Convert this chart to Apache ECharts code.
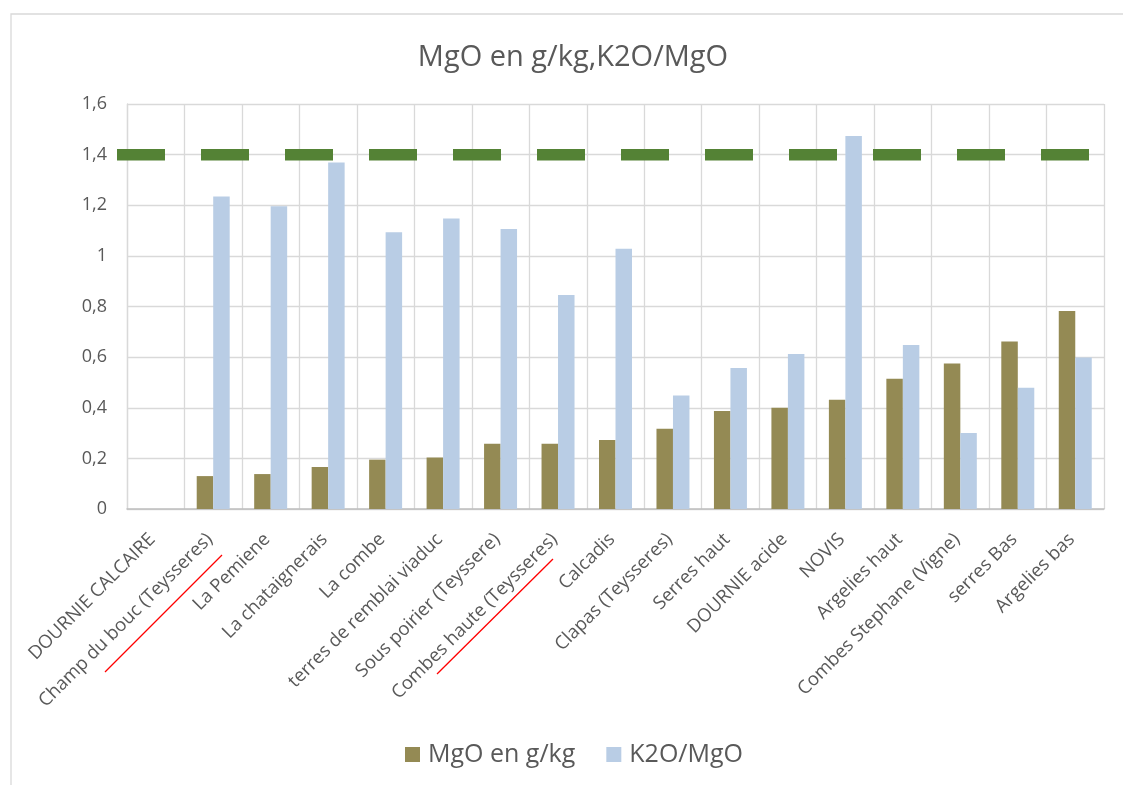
<!DOCTYPE html>
<html>
<head>
<meta charset="utf-8">
<script src="https://cdn.jsdelivr.net/npm/echarts@6/dist/echarts.min.js"></script>
<style>html,body{margin:0;padding:0;background:#fff}#c{width:1123px;height:785px}</style>
</head>
<body>
<div id="c"></div>
<script>
const categories = ["DOURNIE CALCAIRE","Champ du bouc (Teysseres)","La Pemiene","La chataignerais","La combe","terres de remblai viaduc","Sous poirier (Teyssere)","Combes haute (Teysseres)","Calcadis","Clapas (Teysseres)","Serres haut","DOURNIE acide","NOVIS","Argelies haut","Combes Stephane (Vigne)","serres Bas","Argelies bas"];
const mgo = [null,0.13,0.138,0.166,0.195,0.203,0.258,0.258,0.273,0.317,0.387,0.400,0.432,0.515,0.575,0.662,0.782];
const k2oMgo = [null,1.235,1.196,1.369,1.093,1.148,1.106,0.845,1.028,0.448,0.557,0.612,1.474,0.648,0.300,0.479,0.599];
const threshold = [1.4,1.4,1.4,1.4,1.4,1.4,1.4,1.4,1.4,1.4,1.4,1.4,1.4,1.4,1.4,1.4,1.4];
const yTicks = ["0","0,2","0,4","0,6","0,8","1","1,2","1,4","1,6"];

const FONT = "Open Sans";
const TXT = "#595959";
const chart = echarts.init(document.getElementById('c'));
chart.setOption({
  animation: false,
  backgroundColor: '#fff',
  textStyle: {fontFamily: FONT},
  title: {
    text: 'MgO en g/kg,K2O/MgO',
    left: 568, top: 38, textAlign: 'center',
    textStyle: {fontFamily: FONT, fontSize: 29, fontWeight: 'normal', color: TXT}
  },
  legend: {
    data: ['MgO en g/kg','K2O/MgO'],
    top: 737, left: 400,
    itemWidth: 15, itemHeight: 15, itemGap: 31,
    icon: 'rect',
    textStyle: {fontFamily: FONT, fontSize: 25, color: TXT, padding: [0, 0, 0, 3]}
  },
  grid: [
    {left: 127, right: 19, top: 104, bottom: 276},
    {left: 117, right: 34, top: 104, bottom: 276}
  ],
  xAxis: [
    {
      type: 'category', data: categories, gridIndex: 0,
      axisLine: {lineStyle: {color: '#bfbfbf', width: 1.5}},
      axisTick: {show: false},
      splitLine: {show: true, lineStyle: {color: '#d9d9d9', width: 1.3}},
      axisLabel: {rotate: 45, interval: 0, margin: 24, padding: [0, 5, 0, 0], fontFamily: FONT, fontSize: 18.5, color: TXT}
    },
    {
      type: 'category', data: categories, gridIndex: 1, boundaryGap: false, show: false
    }
  ],
  yAxis: [
    {
      type: 'value', min: 0, max: 1.6, interval: 0.2, gridIndex: 0,
      axisLine: {show: true, lineStyle: {color: '#d9d9d9', width: 1.3}},
      axisTick: {show: false},
      splitLine: {lineStyle: {color: '#d9d9d9', width: 1.3}},
      axisLabel: {margin: 20, fontFamily: FONT, fontSize: 18, color: TXT,
        formatter: function(v){ return yTicks[Math.round(v/0.2)]; }}
    },
    {type: 'value', min: 0, max: 1.6, interval: 0.2, gridIndex: 1, show: false}
  ],
  series: [
    {
      name: 'MgO en g/kg', type: 'bar', data: mgo, xAxisIndex: 0, yAxisIndex: 0,
      barGap: '0%', barCategoryGap: '42.6%',
      itemStyle: {color: '#948a54'}
    },
    {
      name: 'K2O/MgO', type: 'bar', data: k2oMgo, xAxisIndex: 0, yAxisIndex: 0,
      barGap: '0%', barCategoryGap: '42.6%',
      itemStyle: {color: '#b9cde5'}
    },
    {
      name: 'seuil', type: 'line', data: threshold, xAxisIndex: 1, yAxisIndex: 1,
      symbol: 'none', clip: false, z: 5,
      lineStyle: {color: '#548235', width: 11.5, type: [48, 36], cap: 'butt'}
    }
  ],
  graphic: [
    {type: 'rect', shape: {x: 11, y: 14, width: 1300, height: 900}, style: {fill: 'none', stroke: '#d9d9d9', lineWidth: 1.3}, silent: true, z: -1},
    {type: 'line', shape: {x1: 222, y1: 555, x2: 105, y2: 672}, style: {stroke: '#ff0000', lineWidth: 1.3}, z: 10},
    {type: 'line', shape: {x1: 553, y1: 559, x2: 437, y2: 674}, style: {stroke: '#ff0000', lineWidth: 1.3}, z: 10}
  ]
});
</script>
</body>
</html>
